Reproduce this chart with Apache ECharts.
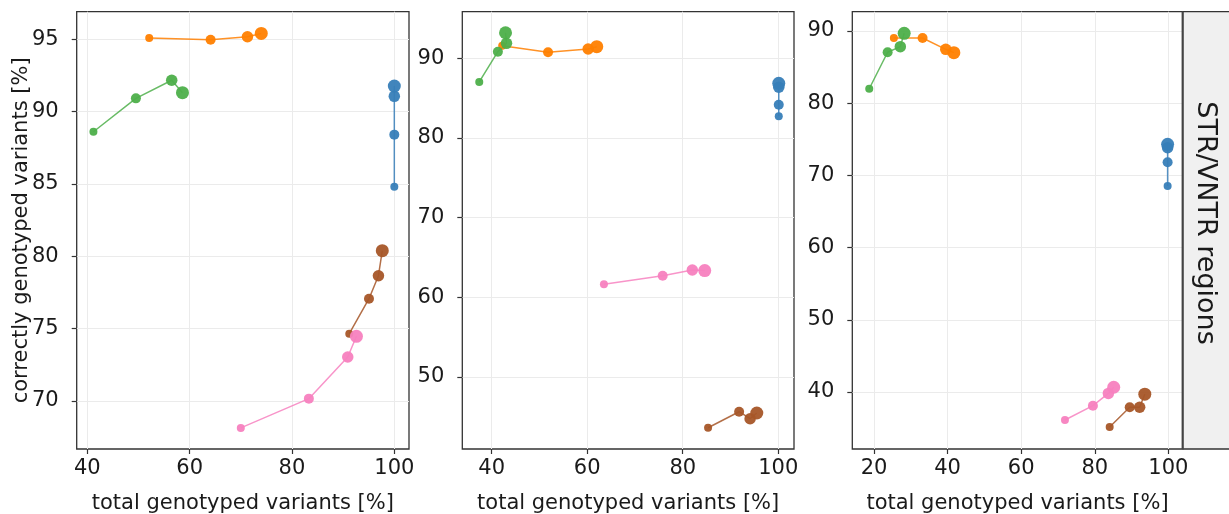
<!DOCTYPE html>
<html>
<head>
<meta charset="utf-8">
<script src="https://cdn.jsdelivr.net/npm/echarts@6/dist/echarts.min.js"></script>
<style>
  html, body { margin: 0; padding: 0; background: #fff; }
  #chart { width: 1229px; height: 514px; }
</style>
</head>
<body>
<div id="chart"></div>
<script>
// Genotyping performance per caller: [total genotyped %, correctly genotyped %],
// one point per coverage level (smallest to largest marker).

// Panel 1
const p1Blue   = [[100.0, 84.81], [100.0, 88.41], [100.0, 91.06], [100.0, 91.77]];
const p1Orange = [[52.1, 95.09], [64.1, 94.97], [71.3, 95.18], [74.0, 95.41]];
const p1Green  = [[41.2, 88.61], [49.5, 90.92], [56.5, 92.17], [58.6, 91.31]];
const p1Pink   = [[70.0, 68.14], [83.3, 70.16], [90.9, 73.04], [92.6, 74.47]];
const p1Brown  = [[91.2, 74.65], [95.05, 77.07], [96.9, 78.66], [97.65, 80.39]];

// Panel 2
const p2Blue   = [[100.1, 82.72], [100.1, 84.18], [100.1, 86.36], [100.1, 86.86]];
const p2Orange = [[42.2, 91.58], [51.8, 90.75], [60.2, 91.17], [62.0, 91.46]];
const p2Green  = [[37.4, 87.03], [41.3, 90.83], [43.1, 91.88], [42.9, 93.21]];
const p2Pink   = [[63.5, 61.63], [75.8, 62.71], [82.0, 63.43], [84.6, 63.35]];
const p2Brown  = [[85.3, 43.63], [91.8, 45.64], [94.1, 44.76], [95.5, 45.48]];

// Panel 3 (STR/VNTR regions)
const p3Blue   = [[99.8, 68.53], [99.8, 71.81], [99.8, 73.84], [99.8, 74.3]];
const p3Orange = [[25.4, 89.03], [33.2, 89.03], [39.5, 87.46], [41.7, 87.0]];
const p3Green  = [[18.7, 82.0], [23.7, 87.05], [27.15, 87.83], [28.2, 89.68]];
const p3Pink   = [[71.9, 36.12], [79.5, 38.1], [83.7, 39.8], [85.15, 40.65]];
const p3Brown  = [[84.05, 35.15], [89.5, 37.88], [92.2, 37.88], [93.6, 39.7]];

// Tick values
const p1XTicks = [40, 60, 80, 100];
const p1YTicks = [70, 75, 80, 85, 90, 95];
const p2XTicks = [40, 60, 80, 100];
const p2YTicks = [50, 60, 70, 80, 90];
const p3XTicks = [20, 40, 60, 80, 100];
const p3YTicks = [40, 50, 60, 70, 80, 90];

const xTitle = 'total genotyped variants [%]';
const yTitle = 'correctly genotyped variants [%]';
const stripLabel = 'STR/VNTR regions';

const FONT = 'DejaVu Sans';
const FS = 21;
const TEXT = '#1a1a1a';
const FRAME = '#333333';
const GRIDLINE = '#ebebeb';
const markerSizes = [8, 10, 11.5, 13];

const colors = {
  blue: '#377eb8', orange: '#ff7f00', green: '#4daf4a', pink: '#f781bf', brown: '#a65628'
};

const panels = [
  { left: 76.7, width: 332.3, xr: [37.93, 102.87], yr: [66.68, 96.91], xt: p1XTicks, yt: p1YTicks,
    data: { blue: p1Blue, orange: p1Orange, green: p1Green, pink: p1Pink, brown: p1Brown }, yName: yTitle },
  { left: 462.3, width: 331.7, xr: [33.85, 103.29], yr: [40.96, 95.85], xt: p2XTicks, yt: p2YTicks,
    data: { blue: p2Blue, orange: p2Orange, green: p2Green, pink: p2Pink, brown: p2Brown }, yName: '' },
  { left: 852.3, width: 330.4, xr: [14.1, 103.9], yr: [32.1, 92.67], xt: p3XTicks, yt: p3YTicks,
    data: { blue: p3Blue, orange: p3Orange, green: p3Green, pink: p3Pink, brown: p3Brown }, yName: '' }
];

const TOP = 11.7, BOTTOM = 449;

const grid = [], xAxis = [], yAxis = [], series = [];
panels.forEach((p, i) => {
  grid.push({
    left: p.left, top: TOP, width: p.width, height: BOTTOM - TOP,
    outerBoundsMode: 'none', containLabel: false,
    show: true, borderColor: FRAME, borderWidth: 1.3, backgroundColor: 'transparent'
  });
  xAxis.push({
    type: 'value', gridIndex: i, min: p.xr[0], max: p.xr[1],
    name: xTitle, nameLocation: 'middle', nameGap: 44, nameMoveOverlap: false,
    nameTextStyle: { fontFamily: FONT, fontSize: FS, color: TEXT },
    axisLine: { show: false },
    axisTick: { show: true, inside: false, length: 5, customValues: p.xt, lineStyle: { color: FRAME, width: 1.2 } },
    axisLabel: { customValues: p.xt, fontFamily: FONT, fontSize: FS, color: TEXT, margin: 9 },
    splitLine: { show: true, lineStyle: { color: GRIDLINE, width: 1 } }
  });
  yAxis.push({
    type: 'value', gridIndex: i, min: p.yr[0], max: p.yr[1],
    name: p.yName, nameLocation: 'middle', nameGap: 45, nameRotate: 90, nameMoveOverlap: false,
    nameTextStyle: { fontFamily: FONT, fontSize: FS, color: TEXT },
    axisLine: { show: false },
    axisTick: { show: true, inside: false, length: 5, customValues: p.yt, lineStyle: { color: FRAME, width: 1.2 } },
    axisLabel: { customValues: p.yt, fontFamily: FONT, fontSize: FS, color: TEXT, margin: 18 },
    splitLine: { show: true, lineStyle: { color: GRIDLINE, width: 1 } }
  });
  ['blue', 'orange', 'green', 'brown', 'pink'].forEach(key => {
    series.push({
      type: 'line', xAxisIndex: i, yAxisIndex: i,
      data: p.data[key],
      symbol: 'circle',
      symbolSize: (v, params) => markerSizes[params.dataIndex],
      showAllSymbol: true,
      itemStyle: { color: colors[key], opacity: 0.95 },
      lineStyle: { color: colors[key], width: 1.5, opacity: 0.85 },
      emphasis: { disabled: true },
      silent: true
    });
  });
});

const STRIP_X = 1182.7;
const graphic = [
  { type: 'rect', shape: { x: STRIP_X, y: TOP, width: 1229 - STRIP_X + 4, height: BOTTOM - TOP },
    style: { fill: '#f0f0f0', stroke: 'none', lineWidth: 0 }, z: 1 },
  { type: 'line', shape: { x1: STRIP_X, y1: TOP, x2: 1235, y2: TOP }, style: { stroke: FRAME, lineWidth: 1.3 }, z: 2 },
  { type: 'line', shape: { x1: STRIP_X, y1: BOTTOM, x2: 1235, y2: BOTTOM }, style: { stroke: FRAME, lineWidth: 1.3 }, z: 2 },
  { type: 'line', shape: { x1: STRIP_X, y1: TOP, x2: STRIP_X, y2: BOTTOM }, style: { stroke: '#444', lineWidth: 2.2 }, z: 2 },
  { type: 'text', x: 1205.5, y: 223, rotation: -Math.PI / 2,
    style: { text: stripLabel, fontFamily: FONT, fontSize: 27, fill: TEXT, align: 'center', verticalAlign: 'middle' }, z: 3 }
];

const chart = echarts.init(document.getElementById('chart'), null, { renderer: 'canvas' });
chart.setOption({
  animation: false,
  backgroundColor: '#ffffff',
  grid, xAxis, yAxis, series, graphic
});
</script>
</body>
</html>
